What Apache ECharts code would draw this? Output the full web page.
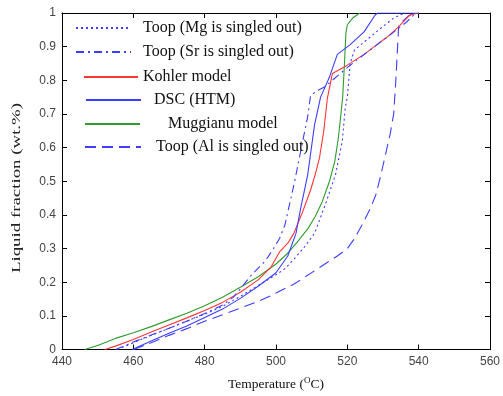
<!DOCTYPE html>
<html>
<head>
<meta charset="utf-8">
<script src="https://cdn.jsdelivr.net/npm/echarts@6/dist/echarts.min.js"></script>
<style>html,body{margin:0;padding:0;background:#fff}#c{width:503px;height:396px}</style>
</head>
<body>
<div id="c"></div>
<script>
var xTicks = [440, 460, 480, 500, 520, 540, 560];
var yTicks = [0, 0.1, 0.2, 0.3, 0.4, 0.5, 0.6, 0.7, 0.8, 0.9, 1];
var seriesNames = ['Toop (Mg is singled out)', 'Toop (Sr is singled out)', 'Kohler model', 'DSC (HTM)', 'Muggianu model', 'Toop (Al is singled out)'];
var yTitle = 'Liquid fraction (wt.%)';

var toopMg = [[455.5,0],[460,0.02],[465,0.042],[470,0.063],[475,0.085],[480,0.105],[485,0.128],[490,0.158],[495,0.19],[500,0.222],[502.5,0.24],[505,0.268],[508,0.305],[510.8,0.345],[513.6,0.424],[516.7,0.52],[518.6,0.62],[519.4,0.716],[520,0.75],[520.8,0.85],[522,0.89],[526,0.925],[530,0.96],[533,0.985],[536,1]];
var toopSr = [[455,0],[460,0.022],[465,0.043],[470,0.063],[475,0.084],[480,0.107],[485,0.132],[488,0.155],[490,0.18],[493,0.22],[497,0.263],[499.2,0.298],[501,0.33],[502.5,0.37],[505.3,0.503],[507.5,0.62],[508.9,0.693],[509.7,0.755],[511.7,0.77],[513.6,0.78],[518,0.82],[522,0.855],[527,0.895],[532,0.935],[536.7,0.974],[538.6,0.994],[540,1]];
var kohler = [[452,0],[455,0.01],[460,0.03],[465,0.052],[470,0.073],[475,0.094],[480,0.116],[485,0.14],[490,0.17],[495,0.207],[498.6,0.245],[501,0.29],[503.3,0.316],[505,0.345],[507.5,0.41],[509.7,0.474],[511,0.52],[512.2,0.57],[513.4,0.65],[514.4,0.746],[515.8,0.82],[520,0.845],[524.7,0.877],[528.3,0.906],[531,0.927],[534,0.955],[537.5,0.994],[540,1]];
var dsc = [[459.7,0],[465,0.025],[470,0.048],[475,0.07],[480,0.095],[485,0.12],[490,0.152],[495,0.188],[500,0.228],[503.3,0.278],[505.6,0.345],[507,0.424],[508.9,0.52],[510.8,0.667],[512.5,0.75],[515,0.81],[517.2,0.877],[520.8,0.906],[524.7,0.944],[527.8,0.994],[528.5,1],[540,1]];
var muggianu = [[446.4,0],[450,0.012],[455,0.033],[460,0.05],[465,0.068],[470,0.088],[475,0.108],[480,0.13],[485,0.155],[490,0.185],[495,0.216],[500,0.254],[503,0.283],[506,0.32],[509,0.36],[511,0.395],[513,0.44],[515,0.5],[516.5,0.56],[517.5,0.63],[518.2,0.7],[518.7,0.75],[519.2,0.85],[519.6,0.94],[520,0.965],[521.5,0.985],[523.5,1]];
var toopAl = [[460,0],[465,0.02],[470,0.042],[475,0.062],[480,0.084],[485,0.103],[490,0.123],[495,0.143],[498.6,0.16],[505.3,0.196],[511.7,0.24],[517.2,0.278],[520,0.3],[522,0.33],[524,0.368],[526.5,0.42],[528,0.46],[529.2,0.51],[530.5,0.57],[532,0.64],[533,0.7],[533.6,0.8],[534,0.88],[534.4,0.965],[537,0.99],[539,1]];

var BLUE = '#3d3dff', RED = '#ff3535', GREEN = '#2f9c2f';
var serif = '"Liberation Serif", "DejaVu Serif", serif';
var sans = '"Liberation Sans", Arial, sans-serif';

function mk(name, data, color, type) {
  return {
    name: name, type: 'line', data: data, showSymbol: false, symbol: 'none',
    smooth: false, animation: false,
    lineStyle: { color: color, width: 1.1, type: type },
    itemStyle: { color: color }
  };
}
var DOT = [2, 3], DASHDOT = [8, 4, 2, 4], DASH = [11, 6];
var series = [
  mk(seriesNames[5], toopAl, BLUE, DASH),
  mk(seriesNames[4], muggianu, GREEN, 'solid'),
  mk(seriesNames[2], kohler, RED, 'solid'),
  mk(seriesNames[0], toopMg, BLUE, DOT),
  mk(seriesNames[1], toopSr, BLUE, DASHDOT),
  mk(seriesNames[3], dsc, BLUE, 'solid')
];

function leg(name, left, top, w, pad) {
  return {
    data: [name], left: left, top: top, orient: 'vertical',
    itemWidth: w, itemHeight: 10, padding: 0,
    selectedMode: false,
    itemStyle: { opacity: 0 },
    textStyle: { fontFamily: serif, fontSize: 16, color: '#111', padding: [0, 0, 0, pad] }
  };
}

var axisCommon = {
  type: 'value', min: 440, max: 560, interval: 20
};
var chart = echarts.init(document.getElementById('c'), null, { renderer: 'canvas' });
chart.setOption({
  animation: false,
  backgroundColor: '#fff',
  grid: { left: 62, right: 9, top: 13, bottom: 41 },
  graphic: [{
    type: 'text', x: 17, y: 188, rotation: Math.PI / 2, scaleX: 1.45, silent: true,
    style: { text: yTitle, font: '13px ' + serif, fill: '#222', align: 'center', verticalAlign: 'middle' }
  }],
  legend: [
    leg(seriesNames[0], 75, 20, 55, 7),
    leg(seriesNames[1], 75, 44, 55, 7),
    leg(seriesNames[2], 83, 69, 54, 0),
    leg(seriesNames[3], 85, 92, 55, 8),
    leg(seriesNames[4], 84, 116, 55, 23),
    leg(seriesNames[5], 84, 139, 56, 10)
  ],
  xAxis: [
    Object.assign({}, axisCommon, {
      position: 'bottom',
      name: 'Temperature ({sup|O}C)', nameLocation: 'middle', nameGap: 27,
      nameTextStyle: { fontFamily: serif, fontSize: 13.5, color: '#111',
        rich: { sup: { fontSize: 9, verticalAlign: 'top', padding: [0, 0, 6, 0], fontFamily: serif, color: '#111' } } },
      axisLine: { show: true, onZero: false, lineStyle: { color: '#000', width: 1 } },
      axisTick: { show: true, inside: true, length: 5, lineStyle: { color: '#000' } },
      axisLabel: { show: true, fontFamily: sans, fontSize: 12, color: '#444', margin: 6 },
      splitLine: { show: false }
    }),
    Object.assign({}, axisCommon, {
      position: 'top',
      axisLine: { show: true, onZero: false, lineStyle: { color: '#000', width: 1 } },
      axisTick: { show: true, inside: true, length: 5, lineStyle: { color: '#000' } },
      axisLabel: { show: false },
      splitLine: { show: false }
    })
  ],
  yAxis: [
    {
      type: 'value', min: 0, max: 1, interval: 0.1, position: 'left',
      axisLine: { show: true, onZero: false, lineStyle: { color: '#000', width: 1 } },
      axisTick: { show: true, inside: true, length: 5, lineStyle: { color: '#000' } },
      axisLabel: { show: true, fontFamily: sans, fontSize: 12, color: '#444', margin: 6,
        formatter: function (v) { return String(Math.round(v * 10) / 10); } },
      splitLine: { show: false }
    },
    {
      type: 'value', min: 0, max: 1, interval: 0.1, position: 'right',
      axisLine: { show: true, onZero: false, lineStyle: { color: '#000', width: 1 } },
      axisTick: { show: true, inside: true, length: 5, lineStyle: { color: '#000' } },
      axisLabel: { show: false },
      splitLine: { show: false }
    }
  ],
  series: series
});
</script>
</body>
</html>
